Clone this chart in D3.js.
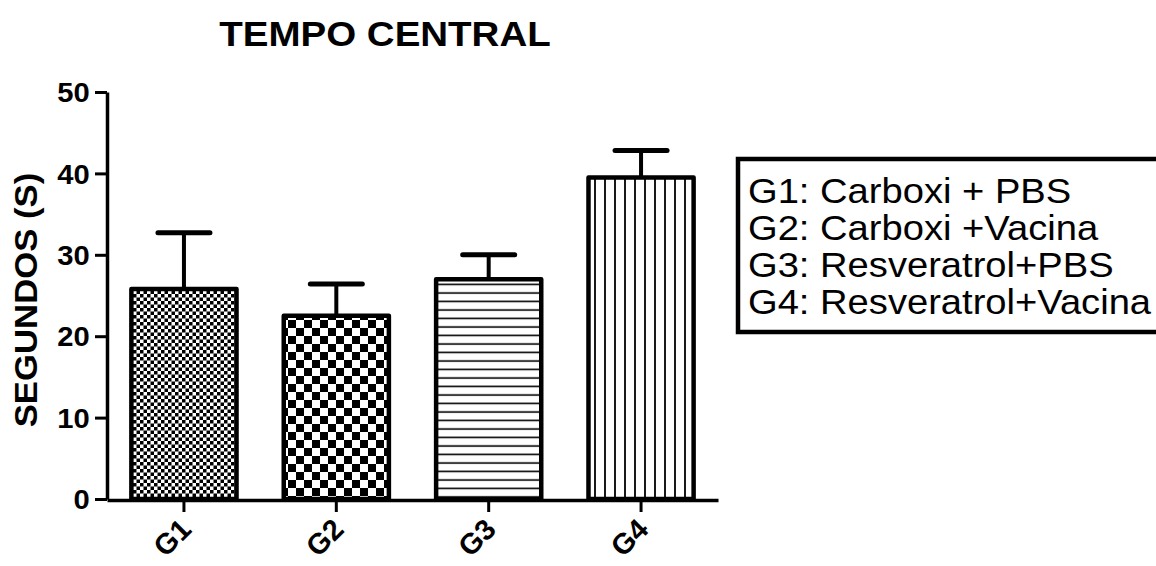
<!DOCTYPE html>
<html><head><meta charset="utf-8">
<script src="https://cdn.jsdelivr.net/npm/d3@7"></script>
<style>body{margin:0;background:#fff}svg{display:block}text{font-family:"Liberation Sans",Arial,sans-serif;fill:#000}</style>
</head><body><svg id="c" width="1156" height="566"></svg>
<script>
const categories = ["G1","G2","G3","G4"];
const means = [25.8, 22.5, 27.0, 39.5];
const errors = [6.9, 3.9, 3.0, 3.3];
const yTicks = [0,10,20,30,40,50];
const legendLabels = ["G1: Carboxi + PBS","G2: Carboxi +Vacina","G3: Resveratrol+PBS","G4: Resveratrol+Vacina"];
const patternIds = ["pG1","pG2","pG3","pG4"];
const title = "TEMPO CENTRAL";
const yLabel = "SEGUNDOS (S)";

const svg = d3.select("#c");
const defs = svg.append("defs");
// G1 fine checker
let p = defs.append("pattern").attr("id","pG1").attr("patternUnits","userSpaceOnUse").attr("width",7).attr("height",7);
p.append("rect").attr("width",7).attr("height",7).attr("fill","#fff");
p.append("rect").attr("width",3.5).attr("height",3.5).attr("fill","#000");
p.append("rect").attr("x",3.5).attr("y",3.5).attr("width",3.5).attr("height",3.5).attr("fill","#000");
// G2 coarse checker
p = defs.append("pattern").attr("id","pG2").attr("patternUnits","userSpaceOnUse").attr("width",16).attr("height",16);
p.append("rect").attr("width",16).attr("height",16).attr("fill","#fff");
p.append("rect").attr("width",8).attr("height",8).attr("fill","#000");
p.append("rect").attr("x",8).attr("y",8).attr("width",8).attr("height",8).attr("fill","#000");
// G3 horizontal lines
p = defs.append("pattern").attr("id","pG3").attr("patternUnits","userSpaceOnUse").attr("width",10).attr("height",8.5);
p.append("rect").attr("width",10).attr("height",8.5).attr("fill","#fff");
p.append("line").attr("x1",0).attr("x2",10).attr("y1",4).attr("y2",4).attr("stroke","#000").attr("stroke-width",1.6);
// G4 vertical lines
p = defs.append("pattern").attr("id","pG4").attr("patternUnits","userSpaceOnUse").attr("width",10).attr("height",10);
p.append("rect").attr("width",10).attr("height",10).attr("fill","#fff");
p.append("line").attr("y1",0).attr("y2",10).attr("x1",5).attr("x2",5).attr("stroke","#000").attr("stroke-width",1.8);

const x = d3.scaleBand().domain(categories).range([107,718]).paddingInner(0.31).paddingOuter(0.16);
const y = d3.scaleLinear().domain([0,50]).range([499,92]);

// bars
svg.append("g").selectAll("rect").data(categories).join("rect")
  .attr("x",d=>x(d)).attr("width",x.bandwidth())
  .attr("y",(d,i)=>y(means[i])).attr("height",(d,i)=>y(0)-y(means[i]))
  .attr("fill",(d,i)=>`url(#${patternIds[i]})`)
  .attr("stroke","#000").attr("stroke-width",4.5).attr("stroke-linejoin","round");

// error bars
const eg = svg.append("g").attr("stroke","#000");
categories.forEach((c,i)=>{
  const cx = x(c)+x.bandwidth()/2;
  eg.append("line").attr("x1",cx).attr("x2",cx).attr("y1",y(means[i])).attr("y2",y(means[i]+errors[i])).attr("stroke-width",4);
  eg.append("line").attr("x1",cx-26).attr("x2",cx+26).attr("y1",y(means[i]+errors[i])).attr("y2",y(means[i]+errors[i])).attr("stroke-width",5).attr("stroke-linecap","round");
});

// y axis
const ya = svg.append("g").attr("transform","translate(107,0)")
  .call(d3.axisLeft(y).tickValues(yTicks).tickSize(12).tickPadding(4).tickSizeOuter(0));
ya.attr("font-size",null).attr("font-family",null);
ya.select(".domain").attr("stroke-width",3.5);
ya.selectAll(".tick line").attr("stroke-width",3);
ya.selectAll(".tick text").style("font-size","27px").style("font-weight","bold").attr("dy","0.36em")
  .attr("transform","scale(1.08,1)");

// x axis
const xa = svg.append("g").attr("transform","translate(0,500)")
  .call(d3.axisBottom(x).tickSize(12).tickSizeOuter(0));
xa.attr("font-size",null).attr("font-family",null);
xa.select(".domain").attr("stroke-width",3.5);
xa.selectAll(".tick line").attr("stroke-width",3);
xa.selectAll(".tick text").style("font-size","29px").style("font-weight","bold")
  .attr("text-anchor","end").attr("y",0).attr("dy",0)
  .attr("transform","translate(9,31) rotate(-45)");

// title
svg.append("text").attr("transform","translate(385,46) scale(1.1,1)").attr("text-anchor","middle")
  .style("font-size","35px").style("font-weight","bold").text(title);

// y label
svg.append("text").attr("transform","translate(37,300) rotate(-90) scale(1.12,1)").attr("text-anchor","middle")
  .style("font-size","31px").style("font-weight","bold").text(yLabel);

// legend
svg.append("rect").attr("x",738).attr("y",159).attr("width",440).attr("height",173)
  .attr("fill","none").attr("stroke","#000").attr("stroke-width",4.5);
const lg = svg.append("g").attr("transform","translate(748,0) scale(1.09,1)");
lg.selectAll("text").data(legendLabels).join("text")
  .attr("x",0).attr("y",(d,i)=>203+i*37).style("font-size","35px").text(d=>d);
</script></body></html>
